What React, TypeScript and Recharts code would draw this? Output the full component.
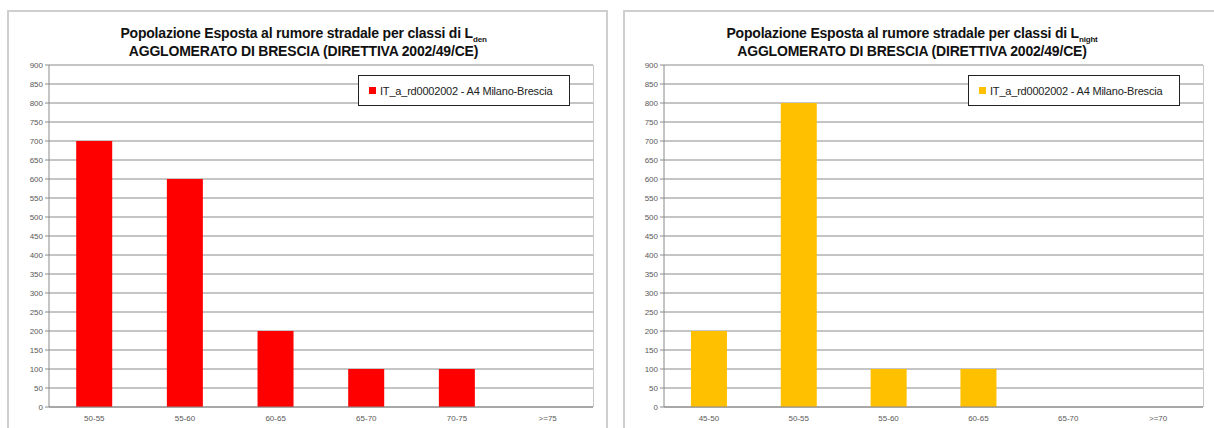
import React from 'react';
import { BarChart, Bar, XAxis, YAxis, CartesianGrid } from 'recharts';

const ldenCategories = ['50-55', '55-60', '60-65', '65-70', '70-75', '>=75'];
const ldenValues = [700, 600, 200, 100, 100, 0];
const lnightCategories = ['45-50', '50-55', '55-60', '60-65', '65-70', '>=70'];
const lnightValues = [200, 800, 100, 100, 0, 0];
const yTicks = [0, 50, 100, 150, 200, 250, 300, 350, 400, 450, 500, 550, 600, 650, 700, 750, 800, 850, 900];
const boundaryTicks = [0, 1, 2, 3, 4, 5, 6];
const seriesName = 'IT_a_rd0002002 - A4 Milano-Brescia';
const titleLine2 = 'AGGLOMERATO DI BRESCIA (DIRETTIVA 2002/49/CE)';

const FONT = "'Liberation Sans', Arial, sans-serif";

function LegendBox({ color }: { color: string }) {
  return (
    <div
      style={{
        position: 'absolute',
        left: 358,
        top: 75,
        border: '1.5px solid #222',
        width: 212,
        height: 31,
        boxSizing: 'border-box',
        display: 'flex',
        alignItems: 'center',
        paddingLeft: 10,
        background: '#fff',
        fontFamily: FONT,
        fontSize: 11,
        letterSpacing: -0.2,
        whiteSpace: 'nowrap',
        color: '#222',
      }}
    >
      <span style={{ display: 'inline-block', width: 7, height: 7, background: color, marginRight: 4 }} />
      <span>{seriesName}</span>
    </div>
  );
}

function Panel({
  left,
  width,
  categories,
  values,
  color,
  sub,
  plotLeft,
  plotRight,
}: {
  left: number;
  width: number;
  categories: string[];
  values: number[];
  color: string;
  sub: string;
  plotLeft: number;
  plotRight: number;
}) {
  const data = categories.map((c, i) => ({ cat: c, v: values[i] }));
  return (
    <div style={{ position: 'absolute', left, top: 0, width, height: 428 }}>
      <div
        style={{
          position: 'absolute',
          left: 0,
          top: 24,
          width: width,
          textAlign: 'center',
          fontFamily: FONT,
          fontWeight: 'bold',
          fontSize: 14,
          letterSpacing: -0.2,
          lineHeight: '18px',
          color: '#111',
        }}
      >
        <div>
          Popolazione Esposta al rumore stradale per classi di L
          <sub style={{ fontSize: 8, lineHeight: 0 }}>{sub}</sub>
        </div>
        <div>{titleLine2}</div>
      </div>
      <div style={{ position: 'absolute', left: 0, top: 0 }}>
        <BarChart
          width={width}
          height={428}
          data={data}
          margin={{ top: 65, right: width - plotRight, left: plotLeft - 39, bottom: 3 }}
          barCategoryGap="30%"
        >
          <CartesianGrid vertical={false} stroke="#8a8a8a" strokeWidth={1} />
          <XAxis
            xAxisId="bounds"
            type="number"
            domain={[0, 6]}
            ticks={boundaryTicks}
            interval={0}
            height={0}
            axisLine={false}
            stroke="#8a8a8a"
            tickSize={3}
            tickFormatter={() => ''}
            allowDataOverflow
          />
          <XAxis
            xAxisId="cat"
            dataKey="cat"
            height={18}
            stroke="#8a8a8a"
            tickLine={false}
            tick={{ fontSize: 8, fill: '#595959', fontFamily: FONT }}
            interval={0}
          />
          <YAxis
            width={39}
            domain={[0, 900]}
            ticks={yTicks}
            interval={0}
            stroke="#8a8a8a"
            tickSize={4}
            tick={{ fontSize: 8, fill: '#595959', fontFamily: FONT }}
          />
          <Bar xAxisId="cat" dataKey="v" name={seriesName} fill={color} isAnimationActive={false} />
        </BarChart>
      </div>
      <div
        style={{
          position: 'absolute',
          left: plotRight,
          top: 65,
          width: 0,
          height: 342,
          borderLeft: '1px solid #c8c8c8',
        }}
      />
      <LegendBox color={color} />
    </div>
  );
}

export default function App() {
  return (
    <div style={{ position: 'absolute', left: 0, top: 0, width: 1214, height: 428, background: '#fff', overflow: 'hidden' }}>
      <div
        style={{
          position: 'absolute',
          left: 7,
          top: 10,
          width: 601,
          height: 430,
          border: '2px solid #cfcfcf',
          boxSizing: 'border-box',
        }}
      />
      <div
        style={{
          position: 'absolute',
          left: 623,
          top: 10,
          width: 600,
          height: 430,
          border: '2px solid #cfcfcf',
          boxSizing: 'border-box',
        }}
      />
      <Panel
        left={0}
        width={607}
        categories={ldenCategories}
        values={ldenValues}
        color="#FF0000"
        sub="den"
        plotLeft={49}
        plotRight={593}
      />
      <Panel
        left={610}
        width={604}
        categories={lnightCategories}
        values={lnightValues}
        color="#FFC000"
        sub="night"
        plotLeft={54}
        plotRight={593}
      />
    </div>
  );
}
